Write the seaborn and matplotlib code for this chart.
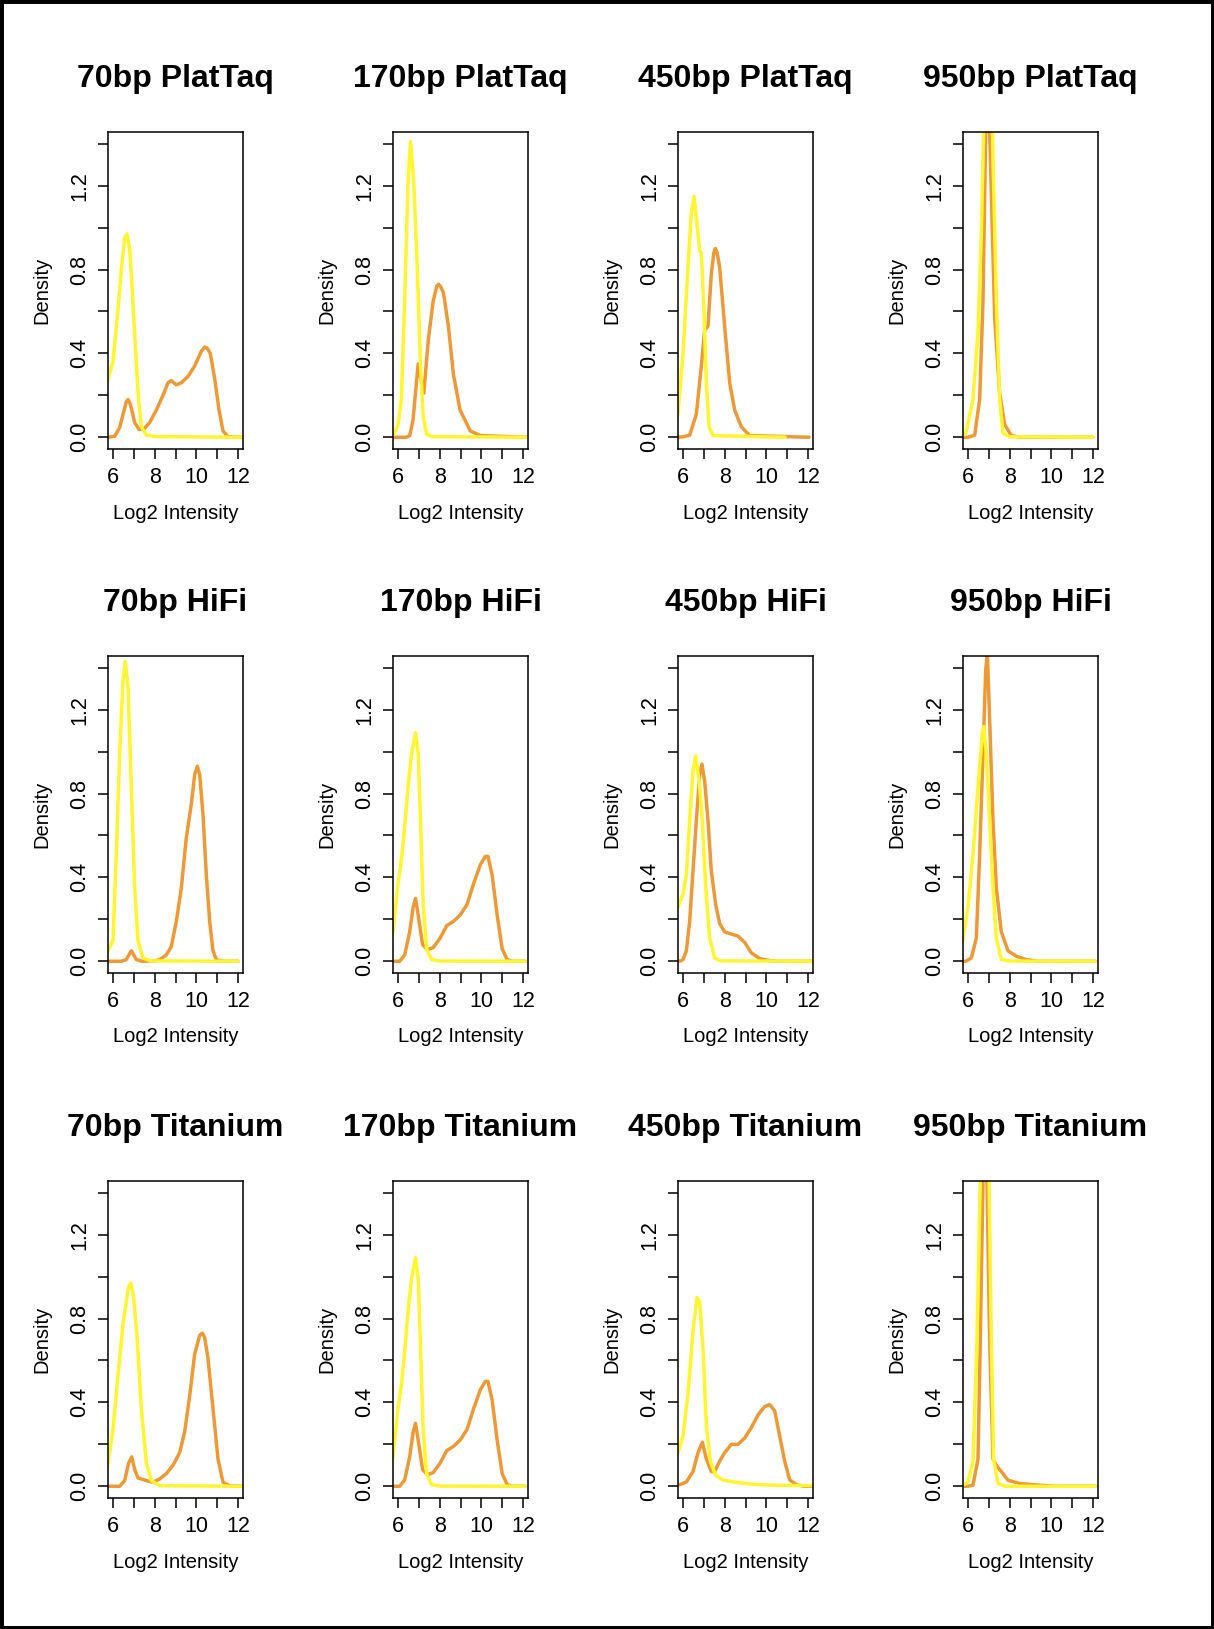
import numpy as np
import pandas as pd
import matplotlib
matplotlib.use("Agg")
import matplotlib.pyplot as plt
import seaborn as sns
from matplotlib.patches import Rectangle

# density curves as (log2 intensity, density) pairs
taq70_yellow = [(5.7, 0.25), (5.76, 0.277), (6.0, 0.36), (6.24, 0.61), (6.4, 0.8), (6.56, 0.95), (6.67, 0.97),
                (6.8, 0.9), (6.93, 0.69), (7.07, 0.44), (7.22, 0.19), (7.36, 0.05), (7.6, 0.01), (8.08, 0.003), (12.2, 0)]
taq70_orange = [(5.7, 0), (5.76, 0), (6.08, 0.005), (6.32, 0.046), (6.51, 0.12), (6.64, 0.17), (6.72, 0.18),
                (6.8, 0.165), (6.88, 0.14), (7.04, 0.07), (7.25, 0.038), (7.47, 0.038), (7.76, 0.07), (8.08, 0.13),
                (8.4, 0.2), (8.64, 0.26), (8.8, 0.27), (9.04, 0.25), (9.28, 0.26), (9.6, 0.29), (9.92, 0.34),
                (10.24, 0.41), (10.4, 0.43), (10.52, 0.425), (10.67, 0.4), (10.88, 0.28), (11.09, 0.13),
                (11.28, 0.03), (11.52, 0.003), (12.2, 0)]

taq170_yellow = [(5.7, 0.005), (5.76, 0.01), (6.0, 0.056), (6.16, 0.18), (6.32, 0.65), (6.48, 1.21), (6.6, 1.41),
                 (6.76, 1.21), (6.92, 0.82), (7.08, 0.34), (7.21, 0.1), (7.37, 0.016), (7.6, 0.003), (12.2, 0)]
taq170_orange = [(5.7, 0), (6.4, 0), (6.56, 0.008), (6.72, 0.08), (6.81, 0.18), (6.97, 0.35), (7.08, 0.29),
                 (7.24, 0.21), (7.45, 0.46), (7.69, 0.65), (7.86, 0.72), (7.94, 0.73), (8.04, 0.72), (8.18, 0.69),
                 (8.42, 0.53), (8.66, 0.3), (8.98, 0.13), (9.47, 0.03), (9.95, 0.008), (12.2, 0)]

taq450_yellow = [(5.7, 0.09), (5.76, 0.11), (6.0, 0.4), (6.24, 0.81), (6.4, 1.07), (6.53, 1.15), (6.67, 1.02),
                 (6.8, 0.89), (6.88, 0.88), (6.99, 0.65), (7.12, 0.26), (7.25, 0.05), (7.44, 0.008), (10.9, 0)]
taq450_orange = [(5.7, 0), (6.0, 0.002), (6.32, 0.01), (6.64, 0.11), (6.88, 0.34), (7.04, 0.51), (7.2, 0.53),
                 (7.36, 0.78), (7.48, 0.88), (7.55, 0.9), (7.64, 0.88), (7.76, 0.81), (8.0, 0.53), (8.24, 0.26),
                 (8.48, 0.13), (8.8, 0.05), (9.2, 0.008), (12.05, 0)]

taq950_yellow = [(5.7, 0.005), (5.76, 0.01), (5.9, 0.02), (6.24, 0.18), (6.48, 0.5), (6.64, 0.97), (6.75, 1.46),
                 (6.95, 2.3), (7.17, 1.46), (7.36, 0.65), (7.52, 0.18), (7.68, 0.02), (8.0, 0.002), (12.0, 0)]
taq950_orange = [(5.7, 0), (6.0, 0), (6.32, 0.01), (6.56, 0.18), (6.72, 0.65), (6.85, 1.46), (6.95, 1.9),
                 (7.04, 1.46), (7.28, 0.57), (7.52, 0.21), (7.76, 0.06), (8.08, 0.008), (8.5, 0), (12.0, 0)]

hifi70_yellow = [(5.7, 0.04), (5.76, 0.05), (6.0, 0.1), (6.16, 0.51), (6.32, 0.99), (6.48, 1.34), (6.59, 1.43),
                 (6.72, 1.31), (6.88, 0.83), (7.04, 0.35), (7.2, 0.1), (7.44, 0.016), (7.8, 0.002), (12.0, 0)]
hifi70_orange = [(5.7, 0), (6.4, 0), (6.64, 0.008), (6.88, 0.05), (7.12, 0.008), (7.4, 0), (8.0, 0.002),
                 (8.24, 0.008), (8.56, 0.03), (8.8, 0.07), (9.04, 0.19), (9.28, 0.35), (9.52, 0.59), (9.76, 0.75),
                 (9.92, 0.89), (10.05, 0.93), (10.16, 0.89), (10.32, 0.7), (10.48, 0.41), (10.64, 0.19),
                 (10.8, 0.05), (10.96, 0.008), (11.3, 0), (12.0, 0)]

hifi170_yellow = [(5.7, 0.12), (5.76, 0.14), (6.0, 0.37), (6.16, 0.48), (6.32, 0.64), (6.48, 0.83), (6.65, 0.99),
                  (6.84, 1.09), (6.97, 0.99), (7.08, 0.67), (7.21, 0.27), (7.37, 0.06), (7.61, 0.008), (8.0, 0.001),
                  (12.1, 0)]
hifi170_orange = [(5.7, 0), (6.08, 0), (6.32, 0.03), (6.56, 0.14), (6.73, 0.26), (6.84, 0.3), (6.97, 0.22),
                  (7.18, 0.08), (7.4, 0.055), (7.69, 0.065), (8.02, 0.11), (8.34, 0.17), (8.66, 0.19), (8.98, 0.22),
                  (9.31, 0.27), (9.63, 0.37), (9.95, 0.46), (10.19, 0.5), (10.32, 0.5), (10.52, 0.41), (10.76, 0.22),
                  (11.0, 0.06), (11.24, 0.008), (11.5, 0), (12.1, 0)]

hifi450_yellow = [(5.7, 0.25), (5.76, 0.26), (6.0, 0.32), (6.16, 0.41), (6.32, 0.67), (6.48, 0.91), (6.61, 0.98),
                  (6.77, 0.86), (6.93, 0.67), (7.09, 0.35), (7.28, 0.11), (7.52, 0.016), (7.8, 0.002), (12.2, 0)]
hifi450_orange = [(5.7, 0), (5.9, 0.002), (6.0, 0.008), (6.16, 0.05), (6.32, 0.19), (6.48, 0.43), (6.64, 0.67),
                  (6.8, 0.89), (6.91, 0.94), (7.04, 0.86), (7.2, 0.67), (7.36, 0.43), (7.57, 0.27), (7.76, 0.18),
                  (8.0, 0.14), (8.32, 0.13), (8.64, 0.12), (8.96, 0.09), (9.28, 0.04), (9.68, 0.013), (10.16, 0.003),
                  (10.6, 0), (12.2, 0)]

hifi950_yellow = [(5.7, 0.08), (5.76, 0.1), (6.0, 0.26), (6.24, 0.51), (6.48, 0.83), (6.69, 1.09), (6.75, 1.12),
                  (6.88, 0.99), (7.04, 0.67), (7.2, 0.35), (7.36, 0.11), (7.6, 0.008), (8.0, 0.001), (12.1, 0)]
hifi950_orange = [(5.7, 0), (5.9, 0), (6.16, 0.016), (6.4, 0.11), (6.56, 0.51), (6.72, 0.99), (6.85, 1.39),
                  (6.93, 1.47), (7.04, 1.15), (7.2, 0.67), (7.36, 0.35), (7.6, 0.14), (7.92, 0.05), (8.32, 0.024),
                  (8.8, 0.008), (9.4, 0), (12.1, 0)]

ti70_yellow = [(5.7, 0.08), (5.76, 0.11), (6.0, 0.27), (6.24, 0.53), (6.48, 0.77), (6.72, 0.94), (6.85, 0.97),
               (6.99, 0.9), (7.15, 0.72), (7.36, 0.37), (7.6, 0.11), (7.84, 0.027), (8.24, 0.003), (12.2, 0)]
ti70_orange = [(5.7, 0), (6.32, 0), (6.56, 0.027), (6.75, 0.11), (6.9, 0.14), (7.04, 0.08), (7.2, 0.04),
               (7.6, 0.027), (7.92, 0.019), (8.24, 0.035), (8.56, 0.06), (8.88, 0.1), (9.2, 0.16), (9.44, 0.26),
               (9.68, 0.43), (9.92, 0.63), (10.16, 0.72), (10.29, 0.73), (10.4, 0.71), (10.56, 0.61), (10.8, 0.37),
               (11.04, 0.13), (11.28, 0.019), (11.6, 0.002), (12.2, 0)]

ti170_yellow = [(5.7, 0.12), (5.76, 0.14), (6.0, 0.37), (6.16, 0.48), (6.32, 0.64), (6.48, 0.83), (6.65, 0.99),
                (6.84, 1.09), (6.97, 0.99), (7.08, 0.67), (7.21, 0.27), (7.37, 0.06), (7.61, 0.008), (8.0, 0.001),
                (12.1, 0)]
ti170_orange = [(5.7, 0), (6.08, 0), (6.32, 0.03), (6.56, 0.14), (6.73, 0.26), (6.84, 0.3), (6.97, 0.22),
                (7.18, 0.08), (7.4, 0.055), (7.69, 0.065), (8.02, 0.11), (8.34, 0.17), (8.66, 0.19), (8.98, 0.22),
                (9.31, 0.27), (9.63, 0.37), (9.95, 0.46), (10.19, 0.5), (10.32, 0.5), (10.52, 0.41), (10.76, 0.22),
                (11.0, 0.06), (11.24, 0.008), (11.5, 0), (12.1, 0)]

ti450_yellow = [(5.7, 0.15), (5.76, 0.16), (6.0, 0.24), (6.24, 0.44), (6.48, 0.74), (6.67, 0.9), (6.8, 0.88),
                (6.96, 0.66), (7.12, 0.29), (7.31, 0.12), (7.57, 0.053), (7.92, 0.029), (8.56, 0.018), (9.52, 0.008),
                (10.48, 0.005), (12.2, 0.003)]
ti450_orange = [(5.7, 0.004), (5.76, 0.005), (6.16, 0.02), (6.48, 0.07), (6.72, 0.16), (6.93, 0.21), (7.12, 0.13),
                (7.36, 0.07), (7.52, 0.07), (7.76, 0.12), (8.0, 0.16), (8.32, 0.2), (8.64, 0.2), (8.96, 0.23),
                (9.28, 0.28), (9.6, 0.34), (9.92, 0.38), (10.16, 0.39), (10.4, 0.36), (10.64, 0.24), (10.88, 0.12),
                (11.12, 0.03), (11.44, 0.008), (11.8, 0), (12.2, 0)]

ti950_yellow = [(5.7, 0.003), (5.76, 0.005), (6.0, 0.02), (6.24, 0.12), (6.43, 0.69), (6.59, 1.46), (6.8, 2.6),
                (7.01, 1.46), (7.12, 0.69), (7.23, 0.13), (7.44, 0.013), (7.8, 0), (12.1, 0)]
ti950_orange = [(5.7, 0), (6.0, 0), (6.24, 0.005), (6.48, 0.13), (6.59, 0.69), (6.72, 1.46), (6.81, 2.2),
                (6.91, 1.46), (7.04, 0.69), (7.2, 0.13), (7.36, 0.1), (7.6, 0.07), (7.92, 0.029), (8.48, 0.013),
                (9.44, 0.005), (10.2, 0), (12.1, 0)]

titles = ["70bp PlatTaq", "170bp PlatTaq", "450bp PlatTaq", "950bp PlatTaq",
          "70bp HiFi", "170bp HiFi", "450bp HiFi", "950bp HiFi",
          "70bp Titanium", "170bp Titanium", "450bp Titanium", "950bp Titanium"]
orange_curves = [taq70_orange, taq170_orange, taq450_orange, taq950_orange,
                 hifi70_orange, hifi170_orange, hifi450_orange, hifi950_orange,
                 ti70_orange, ti170_orange, ti450_orange, ti950_orange]
yellow_curves = [taq70_yellow, taq170_yellow, taq450_yellow, taq950_yellow,
                 hifi70_yellow, hifi170_yellow, hifi450_yellow, hifi950_yellow,
                 ti70_yellow, ti170_yellow, ti450_yellow, ti950_yellow]

x_ticks = [6, 7, 8, 9, 10, 11, 12]
x_labels = ["6", "", "8", "", "10", "", "12"]
y_ticks = [0.0, 0.2, 0.4, 0.6, 0.8, 1.0, 1.2, 1.4]
y_labels = ["0.0", "", "0.4", "", "0.8", "", "1.2", ""]

YELLOW = "#FFF530"
ORANGE = "#EC9A38"

sns.set_style("ticks")
plt.rcParams['font.family'] = ['Liberation Sans', 'DejaVu Sans']
plt.rcParams['text.color'] = 'black'
plt.rcParams['axes.labelcolor'] = 'black'
plt.rcParams['xtick.color'] = 'black'
plt.rcParams['ytick.color'] = 'black'

W, H = 1214, 1629
fig = plt.figure(figsize=(W / 100, H / 100), dpi=100)

col_left = [108, 393, 678, 963]
row_top = [132, 656, 1181]
box_w, box_h = 135, 317

for i, title in enumerate(titles):
    r, c = divmod(i, 4)
    l, t = col_left[c], row_top[r]
    ax = fig.add_axes([l / W, 1 - (t + box_h) / H, box_w / W, box_h / H])

    for pts, col in ((orange_curves[i], ORANGE), (yellow_curves[i], YELLOW)):
        df = pd.DataFrame(pts, columns=["x", "y"])
        sns.lineplot(data=df, x="x", y="y", color=col, lw=2.5, ax=ax,
                     sort=False, estimator=None)

    ax.set_xlim(5.76, 12.24)
    ax.set_ylim(-0.056, 1.456)
    ax.set_xticks(x_ticks)
    ax.set_xticklabels(x_labels)
    ax.set_yticks(y_ticks)
    ax.set_yticklabels(y_labels, rotation=90, va="center")
    ax.tick_params(direction="out", length=7, width=1.1, colors="black",
                   labelsize=15.5, pad=6)
    for s in ax.spines.values():
        s.set_color("black")
        s.set_linewidth(1.1)

    ax.set_xlabel("Log2 Intensity", fontsize=14.5, color="black")
    ax.xaxis.set_label_coords(0.5, -64 / box_h)
    ax.xaxis.label.set_va("center")
    ax.set_ylabel("Density", fontsize=14.5, color="black")
    ax.yaxis.set_label_coords(-66 / box_w, 0.5)
    ax.yaxis.label.set_va("center")

    fig.text((l + box_w / 2) / W, 1 - (t - 53) / H, title, ha="center", va="center",
             fontsize=23, fontweight="bold", color="black")

fig.add_artist(Rectangle((0, 0), 1, 1, transform=fig.transFigure, fill=False,
                         lw=5, ec="black"))

fig.savefig("out.png", dpi=100)
